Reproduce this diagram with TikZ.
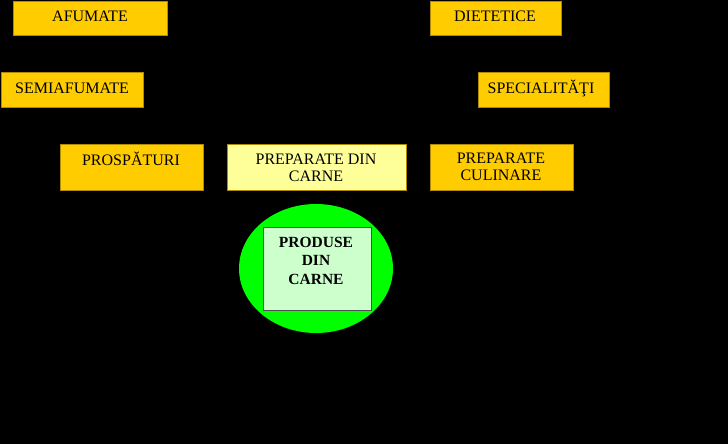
\documentclass[tikz,border=0pt]{standalone}
\usepackage{fontspec}
\setmainfont{Liberation Serif}
\definecolor{gold}{HTML}{FFCC00}
\definecolor{goldedge}{HTML}{B08A00}
\definecolor{paleyellow}{HTML}{FFFF99}
\definecolor{brightgreen}{HTML}{00FF00}
\definecolor{palegreen}{HTML}{CCFFCC}
\begin{document}
\begin{tikzpicture}[x=1pt,y=-1pt,
  goldbox/.style={draw=goldedge, line width=0.8pt, fill=gold},
  palebox/.style={draw=goldedge, line width=0.8pt, fill=paleyellow},
  lbl/.style={anchor=base, inner sep=0pt, align=center, text=black,
    font=\fontsize{16}{17}\selectfont},
  blbl/.style={anchor=base, inner sep=0pt, align=center, text=black,
    font=\fontsize{15.5}{18.5}\selectfont\bfseries}]
\useasboundingbox (0,0) rectangle (728,444);
\fill[black] (0,0) rectangle (728,444);
% boxes
\draw[goldbox] (13,1) rectangle (167,35);
\node[lbl] (afu) at (90,22) {AFUMATE};
\draw[goldbox] (1,72) rectangle (143,107);
\node[lbl] (semi) at (72,93) {SEMIAFUMATE};
\draw[goldbox] (60,144) rectangle (203,190);
\node[lbl] (prosp) at (131,165) {PROSPĂTURI};
\draw[palebox] (227,144) rectangle (406,190);
\node[lbl] (prep) at (316,181) {PREPARATE DIN\\CARNE};
\draw[goldbox] (430,1) rectangle (561,35);
\node[lbl] (diet) at (495,22) {DIETETICE};
\draw[goldbox] (478,72) rectangle (609,107);
\node[lbl] (spec) at (541,93) {SPECIALITĂŢI};
\draw[goldbox] (430,144) rectangle (573,190);
\node[lbl] (cul) at (501,180.7) {PREPARATE\\CULINARE};
% ellipse
\fill[brightgreen] (316,268.5) ellipse [x radius=77, y radius=64.5];
\draw[fill=palegreen, draw=black!70, line width=0.8pt] (263,227) rectangle (371,310);
\node[blbl] (prod) at (316,284) {PRODUSE\\DIN\\CARNE};
\end{tikzpicture}
\end{document}
